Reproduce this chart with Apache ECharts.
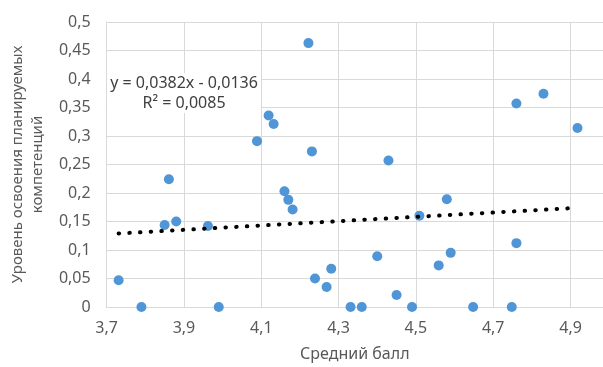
<!DOCTYPE html>
<html>
<head>
<meta charset="utf-8">
<script src="https://cdn.jsdelivr.net/npm/echarts@6/dist/echarts.min.js"></script>
<style>
  html, body { margin: 0; padding: 0; background: #fff; }
  #chart { width: 603px; height: 367px; }
</style>
</head>
<body>
<div id="chart"></div>
<script>
// average score (x) vs level of competence mastery (y)
const scoreX = [3.731, 3.79, 3.85, 3.861, 3.88, 3.962, 3.99, 4.089, 4.119, 4.132,
  4.16, 4.17, 4.181, 4.222, 4.231, 4.239, 4.269, 4.281, 4.331, 4.36,
  4.40, 4.429, 4.45, 4.49, 4.509, 4.559, 4.58, 4.59, 4.648, 4.748,
  4.76, 4.76, 4.83, 4.918];
const levelY = [0.047, 0, 0.144, 0.224, 0.150, 0.142, 0, 0.291, 0.336, 0.321,
  0.203, 0.188, 0.171, 0.463, 0.273, 0.050, 0.035, 0.067, 0, 0,
  0.089, 0.257, 0.021, 0, 0.160, 0.073, 0.189, 0.095, 0, 0,
  0.112, 0.357, 0.374, 0.314];

// linear trendline end points
const trendX = [3.731, 4.918];
const trendY = [0.129, 0.174];

const eqLines = ['y = 0,0382x - 0,0136', 'R² = 0,0085'];

const FONT = 'Noto Sans';
const comma = (v, d) => String(+v.toFixed(d)).replace('.', ',');

const chart = echarts.init(document.getElementById('chart'));

chart.setOption({
  animation: false,
  backgroundColor: '#fff',
  textStyle: { fontFamily: FONT },
  grid: { left: 104, top: 22, right: 0, bottom: 59 },
  xAxis: {
    type: 'value',
    min: 3.7,
    max: 4.984,
    interval: 0.2,
    name: 'Средний балл',
    nameLocation: 'middle',
    nameGap: 39,
    nameTextStyle: { color: '#595959', fontSize: 16, fontFamily: FONT },
    axisLine: { show: true, lineStyle: { color: '#d9d9d9' } },
    axisTick: { show: false },
    splitLine: { lineStyle: { color: '#d9d9d9' } },
    axisLabel: {
      color: '#595959', fontSize: 16, margin: 13, showMaxLabel: false,
      formatter: v => comma(v, 1)
    }
  },
  yAxis: {
    type: 'value',
    min: 0,
    max: 0.5,
    interval: 0.05,
    name: 'Уровень освоения планируемых\nкомпетенций',
    nameLocation: 'middle',
    nameGap: 55,
    nameTextStyle: { color: '#595959', fontSize: 15, fontFamily: FONT, lineHeight: 20 },
    axisLine: { show: true, lineStyle: { color: '#d9d9d9' } },
    axisTick: { show: false },
    splitLine: { lineStyle: { color: '#d9d9d9' } },
    axisLabel: { color: '#595959', fontSize: 16, margin: 16, formatter: v => comma(v, 2) }
  },
  graphic: [{
    type: 'text',
    x: 184,
    y: 73,
    z: 10,
    style: {
      text: eqLines.join('\n'),
      align: 'center',
      verticalAlign: 'top',
      fill: '#404040',
      font: '16px "Noto Sans"',
      lineHeight: 20,
      backgroundColor: '#fff',
      padding: [0, 3]
    }
  }],
  series: [{
    type: 'scatter',
    data: scoreX.map((x, i) => [x, levelY[i]]),
    symbolSize: 10,
    itemStyle: { color: '#5096d6', opacity: 1 },
    z: 2
  }, {
    type: 'line',
    data: trendX.map((x, i) => [x, trendY[i]]),
    showSymbol: false,
    lineStyle: { color: '#000', width: 4, type: [0.5, 10.2], cap: 'round' },
    z: 3
  }]
});
</script>
</body>
</html>
